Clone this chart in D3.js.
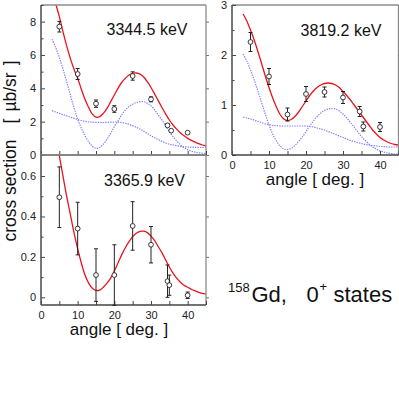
<!DOCTYPE html>
<html><head><meta charset="utf-8">
<script src="https://cdn.jsdelivr.net/npm/d3@7"></script>
<style>
body{margin:0;background:#fff;}
svg{display:block;font-family:"Liberation Sans",Arial,sans-serif;}
</style></head>
<body>
<svg id="chart" width="399" height="396"></svg>
<script>
// ---------- data ----------
const curveAngles = d3.range(3, 46, 1);

// 3344.5 keV
const red1   = [10.0,9.1,8.3,7.4,6.55,5.8,5.15,4.6,3.95,3.35,2.85,2.45,2.27,2.3,2.5,2.8,3.2,3.6,4.0,4.35,4.6,4.8,4.9,4.92,4.85,4.68,4.4,4.05,3.65,3.25,2.85,2.45,2.1,1.8,1.55,1.33,1.15,1.0,0.88,0.77,0.68,0.6,0.55];
const blue1a = [6.95,6.45,5.85,5.15,4.4,3.6,2.85,2.15,1.6,1.15,0.8,0.52,0.4,0.45,0.65,0.95,1.3,1.7,2.05,2.4,2.7,2.9,3.05,3.15,3.2,3.2,3.1,2.95,2.7,2.4,2.1,1.75,1.4,1.1,0.85,0.62,0.45,0.32,0.23,0.17,0.13,0.11,0.1];
const blue1b = [2.66,2.58,2.5,2.42,2.35,2.27,2.2,2.13,2.07,2.02,1.99,1.97,1.96,1.95,1.95,1.96,1.97,1.98,1.97,1.95,1.9,1.84,1.76,1.66,1.55,1.43,1.29,1.15,1.03,0.92,0.82,0.72,0.65,0.6,0.56,0.52,0.5,0.48,0.47,0.46,0.45,0.45,0.45];
const expAngles1 = [5,10,15,20,25,30,34.5,35.5,40];
const exp1 = [7.7,4.86,3.08,2.76,4.74,3.34,1.78,1.46,1.34];
const err1 = [0.32,0.33,0.22,0.2,0.25,0.15,0.08,0.07,0.06];

// 3819.2 keV
const red2   = [2.82,2.68,2.5,2.3,2.07,1.83,1.58,1.35,1.14,0.96,0.81,0.72,0.69,0.71,0.77,0.86,0.97,1.08,1.19,1.28,1.35,1.4,1.43,1.44,1.43,1.4,1.35,1.27,1.19,1.1,1.0,0.9,0.8,0.7,0.6,0.5,0.42,0.35,0.3,0.26,0.23,0.21,0.2];
const blue2a = [2.02,1.88,1.7,1.5,1.28,1.05,0.82,0.6,0.42,0.28,0.18,0.12,0.11,0.13,0.19,0.27,0.36,0.47,0.58,0.68,0.77,0.84,0.89,0.92,0.93,0.92,0.88,0.82,0.74,0.65,0.56,0.46,0.37,0.29,0.22,0.16,0.12,0.08,0.06,0.04,0.03,0.02,0.02];
const blue2b = [0.76,0.74,0.72,0.7,0.67,0.65,0.62,0.61,0.59,0.59,0.58,0.58,0.58,0.58,0.58,0.58,0.58,0.58,0.57,0.56,0.54,0.52,0.5,0.47,0.44,0.41,0.38,0.35,0.32,0.29,0.27,0.25,0.23,0.21,0.2,0.19,0.18,0.17,0.17,0.16,0.16,0.16,0.16];
const expAngles2 = [5,10,15,20,25,30,34.5,35.5,40];
const exp2 = [2.26,1.57,0.81,1.22,1.26,1.15,0.87,0.57,0.56];
const err2 = [0.19,0.16,0.13,0.15,0.1,0.12,0.1,0.09,0.09];

// 3365.9 keV
const red3   = [0.92,0.81,0.70,0.6,0.5,0.41,0.32,0.24,0.17,0.11,0.07,0.045,0.034,0.036,0.05,0.07,0.095,0.13,0.17,0.21,0.245,0.275,0.3,0.317,0.326,0.327,0.32,0.303,0.28,0.25,0.22,0.185,0.15,0.12,0.095,0.075,0.06,0.05,0.04,0.032,0.025,0.02,0.016];
const expAngles3 = [5,10,15,20,25,30,34.5,35,40];
const exp3 = [0.495,0.34,0.11,0.11,0.353,0.26,0.08,0.06,0.01];
const err3 = [0.15,0.13,0.13,0.15,0.12,0.09,0.08,0.05,0.016];

const labels = ["3344.5 keV","3819.2 keV","3365.9 keV"];
const xTicks = [0,10,20,30,40];
const xMinor = [5,15,25,35,45];
const yTicks1 = [0,2,4,6,8], yMinor1 = [1,3,5,7,9];
const yTicks2 = [0,1,2,3], yMinor2 = [0.5,1.5,2.5];
const yTicks3 = [0,0.2,0.4,0.6], yMinor3 = [0.1,0.3,0.5];

// ---------- drawing ----------
const svg = d3.select("#chart");
svg.append("rect").attr("width",399).attr("height",396).attr("fill","#fff");

const RED = "#e8141c", BLUE = "#8080ff";

function panel(cfg){
  const {x0,x1,y0,y1,ydom,yt,ym,xlabels,curves,ea,ev,ee,label,lx,ly,ytfmt,id} = cfg;
  const x = d3.scaleLinear().domain([0,45]).range([x0,x1]);
  const y = d3.scaleLinear().domain(ydom).range([y1,y0]);
  const g = svg.append("g");
  g.append("clipPath").attr("id","clip"+id).append("rect")
    .attr("x",x0).attr("y",y0).attr("width",x1-x0).attr("height",y1-y0);
  const line = d3.line().x((d,i)=>x(curveAngles[i])).y(d=>y(d)).curve(d3.curveCatmullRom);
  const cg = g.append("g").attr("clip-path","url(#clip"+id+")");
  curves.forEach(c=>{
    cg.append("path").datum(c.v).attr("d",line).attr("fill","none")
      .attr("stroke",c.blue?BLUE:RED).attr("stroke-width",c.blue?1.2:1.3)
      .attr("stroke-dasharray",c.blue?"1.4,1.1":null);
  });
  // frame top/right
  g.append("line").attr("x1",x0).attr("x2",x1).attr("y1",y0).attr("y2",y0).attr("stroke","#8c8c8c").attr("stroke-width",1.3);
  g.append("line").attr("x1",x1).attr("x2",x1).attr("y1",y0).attr("y2",y1).attr("stroke","#8c8c8c").attr("stroke-width",1.3);
  // axes
  const ax = (gen)=>{ const a=g.append("g").call(gen); a.select(".domain").remove(); a.selectAll("line").attr("stroke","#444"); a.selectAll("text").attr("fill","#222").style("font-size","11px").style("font-family","'Liberation Sans',Arial,sans-serif"); return a; };
  ax(d3.axisBottom(x).tickValues(xTicks).tickSize(-4).tickPadding(6).tickFormat(xlabels?d3.format("d"):"")).attr("transform",`translate(0,${y1})`);
  ax(d3.axisBottom(x).tickValues(xMinor).tickSize(-4).tickFormat("")).attr("transform",`translate(0,${y1})`);
  ax(d3.axisLeft(y).tickValues(yt).tickSize(-4).tickPadding(5).tickFormat(ytfmt)).attr("transform",`translate(${x0},0)`);
  ax(d3.axisLeft(y).tickValues(ym).tickSize(-2.5).tickFormat("")).attr("transform",`translate(${x0},0)`);
  ax(d3.axisRight(y).tickValues(yt).tickSize(3).tickFormat("")).attr("transform",`translate(${x1},0)`).selectAll("line").attr("stroke","#777");
  g.append("line").attr("x1",x0).attr("x2",x1).attr("y1",y1).attr("y2",y1).attr("stroke","#444").attr("stroke-width",1.6);
  g.append("line").attr("x1",x0).attr("x2",x0).attr("y1",y0).attr("y2",y1).attr("stroke","#555").attr("stroke-width",1.6);
  // data points
  const pts = g.append("g");
  ea.forEach((a,i)=>{
    const px=x(a), py=y(ev[i]), t=y(ev[i]+ee[i]), b=y(ev[i]-ee[i]);
    pts.append("line").attr("x1",px).attr("x2",px).attr("y1",t).attr("y2",b).attr("stroke","#222").attr("stroke-width",1);
    [t,b].forEach(yy=>pts.append("line").attr("x1",px-2).attr("x2",px+2).attr("y1",yy).attr("y2",yy).attr("stroke","#222").attr("stroke-width",1));
    pts.append("circle").attr("cx",px).attr("cy",py).attr("r",2.4).attr("fill","#fff").attr("stroke","#222").attr("stroke-width",0.9);
  });
  g.append("text").attr("x",lx).attr("y",ly).attr("text-anchor","middle").style("font-size","16px").attr("fill","#111").text(label);
  return {x,y};
}

panel({id:1,x0:41,x1:206,y0:5,y1:155,ydom:[0,9],yt:yTicks1,ym:yMinor1,xlabels:false,
  curves:[{v:blue1a,blue:true},{v:blue1b,blue:true},{v:red1}],ea:expAngles1,ev:exp1,ee:err1,
  label:labels[0],lx:147,ly:35,ytfmt:d3.format("d")});
panel({id:2,x0:232,x1:398.5,y0:5,y1:155,ydom:[0,3],yt:yTicks2,ym:yMinor2,xlabels:true,
  curves:[{v:blue2a,blue:true},{v:blue2b,blue:true},{v:red2}],ea:expAngles2,ev:exp2,ee:err2,
  label:labels[1],lx:341,ly:35.5,ytfmt:d3.format("d")});
panel({id:3,x0:41,x1:206,y0:155,y1:305,ydom:[-0.038,0.704],yt:yTicks3,ym:yMinor3,xlabels:true,
  curves:[{v:red3}],ea:expAngles3,ev:exp3,ee:err3,
  label:labels[2],lx:144.5,ly:185.5,ytfmt:d=>d===0?"0":d3.format(".1f")(d)});

// axis titles
svg.append("text").attr("x",315).attr("y",185).attr("text-anchor","middle").style("font-size","17px").attr("fill","#111").text("angle [ deg. ]");
svg.append("text").attr("x",119).attr("y",335).attr("text-anchor","middle").style("font-size","17px").attr("fill","#111").text("angle [ deg. ]");
const yt = svg.append("text").attr("transform","translate(16,151) rotate(-90)").attr("text-anchor","middle").style("font-size","17.5px").attr("fill","#111");
yt.append("tspan").text("cross section");
yt.append("tspan").attr("dx",16).text("[");
yt.append("tspan").attr("dx",7).text("µb/sr");
yt.append("tspan").attr("dx",7).text("]");

// nucleus label
const nl = svg.append("text").attr("y",302).attr("fill","#111");
nl.append("tspan").attr("x",228).attr("dy",-10).style("font-size","13px").text("158");
nl.append("tspan").attr("x",251.5).attr("dy",10).style("font-size","22px").text("Gd,");
nl.append("tspan").attr("x",306.5).style("font-size","22px").text("0");
nl.append("tspan").attr("x",319.5).attr("dy",-11).style("font-size","13px").text("+");
nl.append("tspan").attr("x",333.5).attr("dy",11).style("font-size","22px").text("states");
</script>
</body></html>
